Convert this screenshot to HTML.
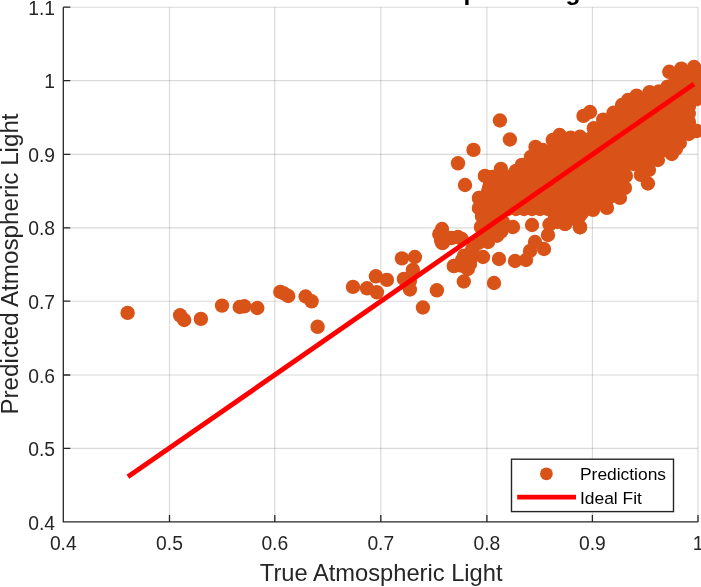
<!DOCTYPE html>
<html><head><meta charset="utf-8"><title>Atmospheric Light</title><style>html,body{margin:0;padding:0;background:#fff}body{width:701px;height:587px;overflow:hidden}</style></head><body>
<svg width="701" height="587" viewBox="0 0 701 587" style="display:block">
<rect width="701" height="587" fill="#fff"/>
<path d="M169.5 7.2V521.9M274.8 7.2V521.9M380.8 7.2V521.9M486.9 7.2V521.9M592.4 7.2V521.9M698.0 7.2V521.9" stroke="#262626" stroke-opacity="0.17" stroke-width="1.15" fill="none"/>
<path d="M63.3 448.4H698.0M63.3 375.0H698.0M63.3 301.2H698.0M63.3 227.8H698.0M63.3 154.3H698.0M63.3 80.6H698.0M63.3 7.2H698.0" stroke="#262626" stroke-opacity="0.17" stroke-width="1.15" fill="none"/>
<g fill="#D95319">
<polygon points="481,227 482,216 479,208 479,198 484.9,175.9 491.9,176.9 500.9,168.9 515.9,170.9 521.9,164.9 530.9,156.9 535.5,146.9 542.8,150 552.8,139.9 559.6,135 570.7,137.6 580,136.8 593.8,128.2 603.2,119.7 613.5,112.8 622,105 628,100 636.6,95.7 649.5,92.3 658.9,91.4 667.6,86.6 669.3,71.8 681.3,68.7 694,67 701,72 705,96 696.5,99 689,106 688.8,113.5 689,122 696.8,131 688.8,134 679.8,143 675.8,149 671.8,154 657.9,160 648.9,169.9 647.9,183.5 640.9,174.9 633.5,164 625.9,175.9 624.9,187.9 619.9,197.9 606.9,207.9 593,209.9 580,227.2 565,223.9 557.9,209.9 548,209 540,209 532,209 524,209 516,209 508,209 500,209 492,211"/>
<circle cx="481" cy="227" r="7.2"/>
<circle cx="482" cy="216" r="7.2"/>
<circle cx="479" cy="208" r="7.2"/>
<circle cx="479" cy="198" r="7.2"/>
<circle cx="484.9" cy="175.9" r="7.2"/>
<circle cx="491.9" cy="176.9" r="7.2"/>
<circle cx="500.9" cy="168.9" r="7.2"/>
<circle cx="515.9" cy="170.9" r="7.2"/>
<circle cx="521.9" cy="164.9" r="7.2"/>
<circle cx="530.9" cy="156.9" r="7.2"/>
<circle cx="535.5" cy="146.9" r="7.2"/>
<circle cx="542.8" cy="150" r="7.2"/>
<circle cx="552.8" cy="139.9" r="7.2"/>
<circle cx="559.6" cy="135" r="7.2"/>
<circle cx="570.7" cy="137.6" r="7.2"/>
<circle cx="580" cy="136.8" r="7.2"/>
<circle cx="593.8" cy="128.2" r="7.2"/>
<circle cx="603.2" cy="119.7" r="7.2"/>
<circle cx="613.5" cy="112.8" r="7.2"/>
<circle cx="622" cy="105" r="7.2"/>
<circle cx="628" cy="100" r="7.2"/>
<circle cx="636.6" cy="95.7" r="7.2"/>
<circle cx="649.5" cy="92.3" r="7.2"/>
<circle cx="658.9" cy="91.4" r="7.2"/>
<circle cx="667.6" cy="86.6" r="7.2"/>
<circle cx="669.3" cy="71.8" r="7.2"/>
<circle cx="681.3" cy="68.7" r="7.2"/>
<circle cx="694" cy="67" r="7.2"/>
<circle cx="701" cy="72" r="7.2"/>
<circle cx="705" cy="96" r="7.2"/>
<circle cx="696.5" cy="99" r="7.2"/>
<circle cx="689" cy="106" r="7.2"/>
<circle cx="688.8" cy="113.5" r="7.2"/>
<circle cx="689" cy="122" r="7.2"/>
<circle cx="696.8" cy="131" r="7.2"/>
<circle cx="688.8" cy="134" r="7.2"/>
<circle cx="679.8" cy="143" r="7.2"/>
<circle cx="675.8" cy="149" r="7.2"/>
<circle cx="671.8" cy="154" r="7.2"/>
<circle cx="657.9" cy="160" r="7.2"/>
<circle cx="648.9" cy="169.9" r="7.2"/>
<circle cx="647.9" cy="183.5" r="7.2"/>
<circle cx="640.9" cy="174.9" r="7.2"/>
<circle cx="633.5" cy="164" r="7.2"/>
<circle cx="625.9" cy="175.9" r="7.2"/>
<circle cx="624.9" cy="187.9" r="7.2"/>
<circle cx="619.9" cy="197.9" r="7.2"/>
<circle cx="606.9" cy="207.9" r="7.2"/>
<circle cx="593" cy="209.9" r="7.2"/>
<circle cx="580" cy="227.2" r="7.2"/>
<circle cx="565" cy="223.9" r="7.2"/>
<circle cx="557.9" cy="209.9" r="7.2"/>
<circle cx="548" cy="209" r="7.2"/>
<circle cx="540" cy="209" r="7.2"/>
<circle cx="532" cy="209" r="7.2"/>
<circle cx="524" cy="209" r="7.2"/>
<circle cx="516" cy="209" r="7.2"/>
<circle cx="508" cy="209" r="7.2"/>
<circle cx="500" cy="209" r="7.2"/>
<circle cx="492" cy="211" r="7.2"/>
<circle cx="127.6" cy="312.9" r="7.2"/>
<circle cx="180.1" cy="315.3" r="7.2"/>
<circle cx="184.2" cy="320" r="7.2"/>
<circle cx="200.9" cy="318.9" r="7.2"/>
<circle cx="222" cy="305.6" r="7.2"/>
<circle cx="239.7" cy="307" r="7.2"/>
<circle cx="244.3" cy="306.3" r="7.2"/>
<circle cx="257.3" cy="308" r="7.2"/>
<circle cx="280.3" cy="291.9" r="7.2"/>
<circle cx="288.2" cy="296" r="7.2"/>
<circle cx="305.6" cy="296.5" r="7.2"/>
<circle cx="311.6" cy="301.3" r="7.2"/>
<circle cx="317.6" cy="326.8" r="7.2"/>
<circle cx="353" cy="286.9" r="7.2"/>
<circle cx="367" cy="288.3" r="7.2"/>
<circle cx="376.9" cy="292.3" r="7.2"/>
<circle cx="375.9" cy="276.3" r="7.2"/>
<circle cx="386.9" cy="279.9" r="7.2"/>
<circle cx="401.9" cy="258.4" r="7.2"/>
<circle cx="414.9" cy="257" r="7.2"/>
<circle cx="412.9" cy="269.9" r="7.2"/>
<circle cx="403.9" cy="278.9" r="7.2"/>
<circle cx="409.9" cy="280.9" r="7.2"/>
<circle cx="409.9" cy="289.5" r="7.2"/>
<circle cx="436.9" cy="290.3" r="7.2"/>
<circle cx="422.9" cy="307.5" r="7.2"/>
<circle cx="440.8" cy="236" r="7.2"/>
<circle cx="442.8" cy="243" r="7.2"/>
<circle cx="451.8" cy="238" r="7.2"/>
<circle cx="461.8" cy="239" r="7.2"/>
<circle cx="453.8" cy="266" r="7.2"/>
<circle cx="463.8" cy="281.5" r="7.2"/>
<circle cx="467.8" cy="256" r="7.2"/>
<circle cx="467.8" cy="269" r="7.2"/>
<circle cx="465" cy="185" r="7.2"/>
<circle cx="479" cy="198" r="7.2"/>
<circle cx="479" cy="208" r="7.2"/>
<circle cx="482" cy="216" r="7.2"/>
<circle cx="481" cy="227" r="7.2"/>
<circle cx="442" cy="229" r="7.2"/>
<circle cx="441" cy="240" r="7.2"/>
<circle cx="449" cy="238" r="7.2"/>
<circle cx="458" cy="237" r="7.2"/>
<circle cx="454" cy="266" r="7.2"/>
<circle cx="462" cy="260" r="7.2"/>
<circle cx="470" cy="264" r="7.2"/>
<circle cx="472" cy="250" r="7.2"/>
<circle cx="483" cy="257" r="7.2"/>
<circle cx="488" cy="242" r="7.2"/>
<circle cx="499" cy="259" r="7.2"/>
<circle cx="494" cy="283" r="7.2"/>
<circle cx="498" cy="230" r="7.2"/>
<circle cx="513" cy="227" r="7.2"/>
<circle cx="532" cy="225" r="7.2"/>
<circle cx="515" cy="261" r="7.2"/>
<circle cx="526" cy="260" r="7.2"/>
<circle cx="530" cy="251" r="7.2"/>
<circle cx="535" cy="242" r="7.2"/>
<circle cx="544" cy="249" r="7.2"/>
<circle cx="548" cy="235" r="7.2"/>
<circle cx="549.5" cy="224.5" r="7.2"/>
<circle cx="558" cy="212" r="7.2"/>
<circle cx="565" cy="223.9" r="7.2"/>
<circle cx="580" cy="227.2" r="7.2"/>
<circle cx="499.9" cy="120.5" r="7.2"/>
<circle cx="509.9" cy="139.5" r="7.2"/>
<circle cx="473.5" cy="149.9" r="7.2"/>
<circle cx="458" cy="163.3" r="7.2"/>
<circle cx="583.5" cy="115.9" r="7.2"/>
<circle cx="590" cy="112" r="7.2"/>
<circle cx="494.2" cy="227" r="7.2"/>
<circle cx="497" cy="235.7" r="7.2"/>
<circle cx="478.5" cy="242.8" r="7.2"/>
<circle cx="472.8" cy="248.5" r="7.2"/>
<circle cx="471.4" cy="257.1" r="7.2"/>
<circle cx="464.2" cy="255.6" r="7.2"/>
<circle cx="461.4" cy="265.6" r="7.2"/>
<circle cx="486" cy="233" r="7.2"/>
<circle cx="490" cy="222" r="7.2"/>
<circle cx="495" cy="218" r="7.2"/>
<circle cx="503" cy="222" r="7.2"/>
<circle cx="501.3" cy="231.4" r="7.2"/>
<circle cx="439.3" cy="234.2" r="7.2"/>
<circle cx="442.1" cy="242.8" r="7.2"/>
<circle cx="555" cy="217" r="7.2"/>
<circle cx="557" cy="222" r="7.2"/>
<circle cx="284" cy="293.5" r="7.2"/>
</g>
<line x1="127.9" y1="476.8" x2="694" y2="84" stroke="#f00" stroke-width="4.9"/>
<path d="M63.3 7.2V521.9H698.0M63.3 521.9v-7M169.5 521.9v-7M274.8 521.9v-7M380.8 521.9v-7M486.9 521.9v-7M592.4 521.9v-7M698.0 521.9v-7M63.3 521.9h7M63.3 448.4h7M63.3 375.0h7M63.3 301.2h7M63.3 227.8h7M63.3 154.3h7M63.3 80.6h7M63.3 7.2h7" stroke="#262626" stroke-width="1.3" fill="none"/>
<g font-family="Liberation Sans, Arial, sans-serif" fill="#262626" font-size="19.3">
<text x="63.3" y="549.6" text-anchor="middle">0.4</text>
<text x="169.5" y="549.6" text-anchor="middle">0.5</text>
<text x="274.8" y="549.6" text-anchor="middle">0.6</text>
<text x="380.8" y="549.6" text-anchor="middle">0.7</text>
<text x="486.9" y="549.6" text-anchor="middle">0.8</text>
<text x="592.4" y="549.6" text-anchor="middle">0.9</text>
<text x="698.0" y="549.6" text-anchor="middle">1</text>
<text x="55" y="529.5" text-anchor="end">0.4</text>
<text x="55" y="456.0" text-anchor="end">0.5</text>
<text x="55" y="382.6" text-anchor="end">0.6</text>
<text x="55" y="308.8" text-anchor="end">0.7</text>
<text x="55" y="235.4" text-anchor="end">0.8</text>
<text x="55" y="161.9" text-anchor="end">0.9</text>
<text x="55" y="88.2" text-anchor="end">1</text>
<text x="55" y="14.8" text-anchor="end">1.1</text>
</g>
<g font-family="Liberation Sans, Arial, sans-serif" fill="#262626" font-size="23.7">
<text x="381.2" y="581.1" text-anchor="middle">True Atmospheric Light</text>
<text transform="translate(17.5 264) rotate(-90)" text-anchor="middle" font-size="24.2">Predicted Atmospheric Light</text>
</g>
<text x="390.4" y="0.3" text-anchor="middle" font-family="Liberation Sans, Arial, sans-serif" font-weight="bold" font-size="24.5" fill="#000">Predicted vs True Atmospheric Light</text>
<rect x="511.5" y="459.2" width="162" height="52.4" fill="#fff" stroke="#262626" stroke-width="1.4"/>
<circle cx="546.4" cy="473.8" r="6.4" fill="#D95319"/>
<line x1="517.2" y1="497.1" x2="576" y2="497.1" stroke="#f00" stroke-width="4.8"/>
<g font-family="Liberation Sans, Arial, sans-serif" fill="#000" font-size="17.4"><text x="580" y="480.4">Predictions</text><text x="580" y="504">Ideal Fit</text></g>
</svg>
</body></html>
